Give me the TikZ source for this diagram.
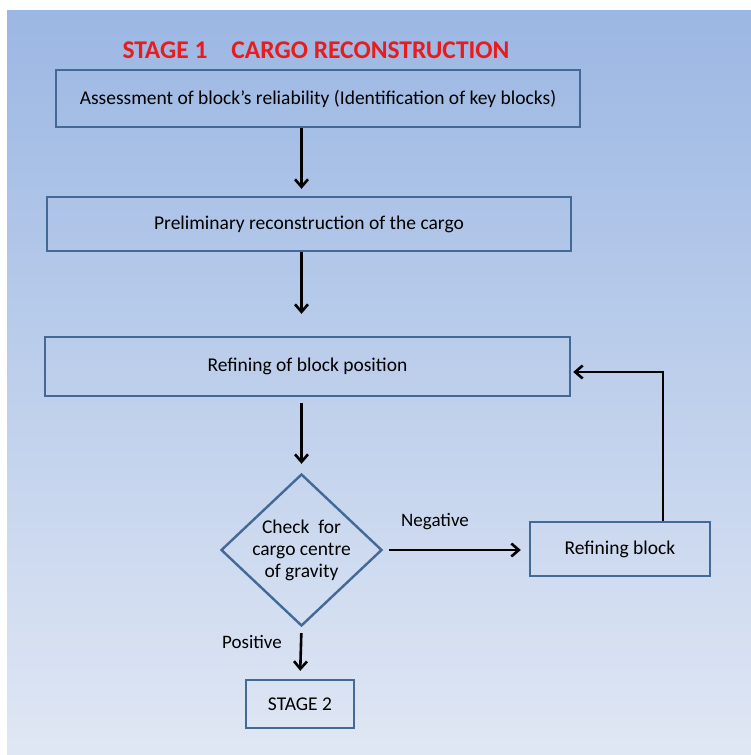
\documentclass[tikz,border=0pt]{standalone}
\usepackage{fontspec}
\setmainfont{Carlito}
\usetikzlibrary{shapes.geometric,arrows.meta,calc}
\definecolor{bordc}{RGB}{68,105,150}
\definecolor{titlec}{RGB}{232,28,28}
\definecolor{bgtop}{RGB}{155,183,227}
\definecolor{bgbot}{RGB}{224,231,244}
\tikzset{
  box/.style={draw=bordc, line width=2.4pt, rectangle, inner sep=0pt, font=\fontsize{19.5}{22}\selectfont},
  dec/.style={draw=bordc, line width=2.4pt, diamond, inner sep=-6pt, minimum width=161pt, minimum height=152pt, align=center, font=\fontsize{19.5}{22}\selectfont},
  arr/.style={line width=2.6pt, -{Straight Barb[length=7.5pt,width=13pt,line width=2.6pt]}},
  lbl/.style={font=\fontsize{19}{22}\selectfont},
}
\begin{document}
\begin{tikzpicture}[x=1pt,y=-1pt]
\useasboundingbox (0,0) rectangle (751,755);
\shade[top color=bgtop, bottom color=bgbot] (7,10) rectangle (751,755);
\node[font=\fontsize{25.5}{28}\selectfont\bfseries, text=titlec] (title) at (316,50) {STAGE 1\hspace{24pt}CARGO RECONSTRUCTION};
\node[box, minimum width=524pt, minimum height=57pt] (b1) at (318,98.5) {Assessment of block’s reliability (Identification of key blocks)};
\node[box, minimum width=524pt, minimum height=54pt] (b2) at (309,224) {Preliminary reconstruction of the cargo};
\node[box, minimum width=525pt, minimum height=59pt] (b3) at (307.5,366.5) {Refining of block position};
\node[dec] (d) at (301.5,550) {Check\ \ for\\cargo centre\\of gravity};
\node[box, minimum width=180pt, minimum height=54pt] (rb) at (620,549) {Refining block};
\node[box, minimum width=108pt, minimum height=48pt] (s2) at (300,704) {STAGE 2};
\node[lbl] (neg) at (435,522) {Negative};
\node[lbl] (pos) at (252,642) {Positive};
\draw[arr, shorten >=7pt] (b1.south -| d) -- (b2.north -| d);
\draw[arr, shorten >=22pt] (b2.south -| d) -- (b3.north -| d);
\draw[arr, shorten <=6pt, shorten >=9pt] (b3.south -| d) -- (d.north);
\draw[arr, shorten <=6pt, shorten >=8pt] (d.east) -- (rb.west |- d.east);
\draw[arr, shorten <=6pt, shorten >=8pt] (d.south) -- (s2.north);
\draw[arr, shorten >=2pt] ([xshift=43pt]rb.north) |- ([yshift=-5.5pt]b3.east);
\end{tikzpicture}
\end{document}
